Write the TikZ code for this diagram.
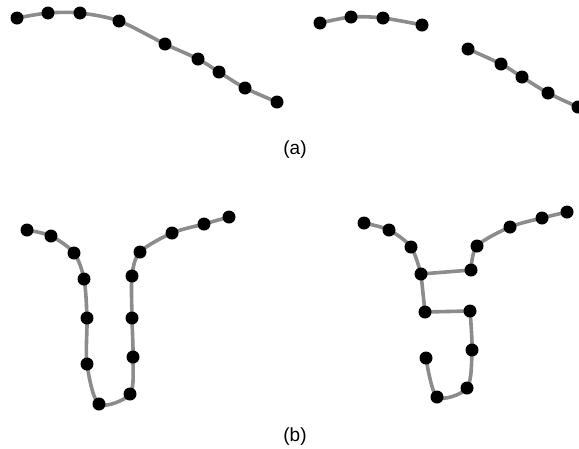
\documentclass[tikz,border=0pt]{standalone}
\usepackage{fontspec}
\setmainfont{Liberation Sans}

\begin{document}
\begin{tikzpicture}[x=1pt,y=-1pt]
\tikzstyle{dot}=[circle,fill=black,inner sep=0pt,minimum size=13pt]
\tikzstyle{wire}=[draw=black!45,line width=3.6pt]
\useasboundingbox (0,0) rectangle (579,448);
% (a) left
\coordinate (a1) at (17,18);
\coordinate (a2) at (48,13);
\coordinate (a3) at (80,13);
\coordinate (a4) at (119,21);
\coordinate (a5) at (165,44);
\coordinate (a6) at (198,59);
\coordinate (a7) at (219,72);
\coordinate (a8) at (245,88);
\coordinate (a9) at (277,102);
% (a) right
\coordinate (c1) at (320,23);
\coordinate (c2) at (351,17);
\coordinate (c3) at (383,18);
\coordinate (c4) at (422,25);
\coordinate (d1) at (468,49);
\coordinate (d2) at (501,64);
\coordinate (d3) at (522,77);
\coordinate (d4) at (548,93);
\coordinate (d5) at (578,107);
% (b) left
\coordinate (b1) at (27,230);
\coordinate (b2) at (51,236);
\coordinate (b3) at (74,253);
\coordinate (b4) at (84,279);
\coordinate (b5) at (87,318);
\coordinate (b6) at (87,364);
\coordinate (b7) at (99,404);
\coordinate (b8) at (130,394);
\coordinate (b9) at (133,357);
\coordinate (b10) at (132,318);
\coordinate (b11) at (132,276);
\coordinate (b12) at (140,252);
\coordinate (b13) at (172,233);
\coordinate (b14) at (204,224);
\coordinate (b15) at (229,217);
% (b) right
\coordinate (e1) at (364,223);
\coordinate (e2) at (389,230);
\coordinate (e3) at (411,247);
\coordinate (e4) at (421,274);
\coordinate (e5) at (425,312);
\coordinate (e6) at (426,358);
\coordinate (e7) at (437,397);
\coordinate (e8) at (467,388);
\coordinate (e9) at (472,350);
\coordinate (e10) at (470,311);
\coordinate (e11) at (471,270);
\coordinate (e12) at (477,246);
\coordinate (e13) at (510,227);
\coordinate (e14) at (542,218);
\coordinate (e15) at (567,212);

\draw[wire] plot[smooth] coordinates {(a1) (a2) (a3) (a4) (a5) (a6) (a7) (a8) (a9)};
\draw[wire] plot[smooth] coordinates {(c1) (c2) (c3) (c4)};
\draw[wire] plot[smooth] coordinates {(d1) (d2) (d3) (d4) (d5)};
\draw[wire] plot[smooth] coordinates {(b1) (b2) (b3) (b4) (b5) (b6) (b7) (b8) (b9) (b10) (b11) (b12) (b13) (b14) (b15)};
\draw[wire] plot[smooth] coordinates {(e1) (e2) (e3) (e4)};
\draw[wire] (e4) -- (e11);
\draw[wire] (e4) -- (e5) -- (e10);
\draw[wire] plot[smooth] coordinates {(e10) (e9) (e8) (e7) (e6)};
\draw[wire] plot[smooth] coordinates {(e11) (e12) (e13) (e14) (e15)};

\foreach \p in {a1,a2,a3,a4,a5,a6,a7,a8,a9,c1,c2,c3,c4,d1,d2,d3,d4,d5,
  b1,b2,b3,b4,b5,b6,b7,b8,b9,b10,b11,b12,b13,b14,b15,
  e1,e2,e3,e4,e5,e6,e7,e8,e9,e10,e11,e12,e13,e14,e15}
  \node[dot] (n-\p) at (\p) {};

\node[font=\fontsize{19}{22}\selectfont] (capa) at (295,150) {(a)};
\node[font=\fontsize{19}{22}\selectfont] (capb) at (295,437) {(b)};
\end{tikzpicture}
\end{document}
